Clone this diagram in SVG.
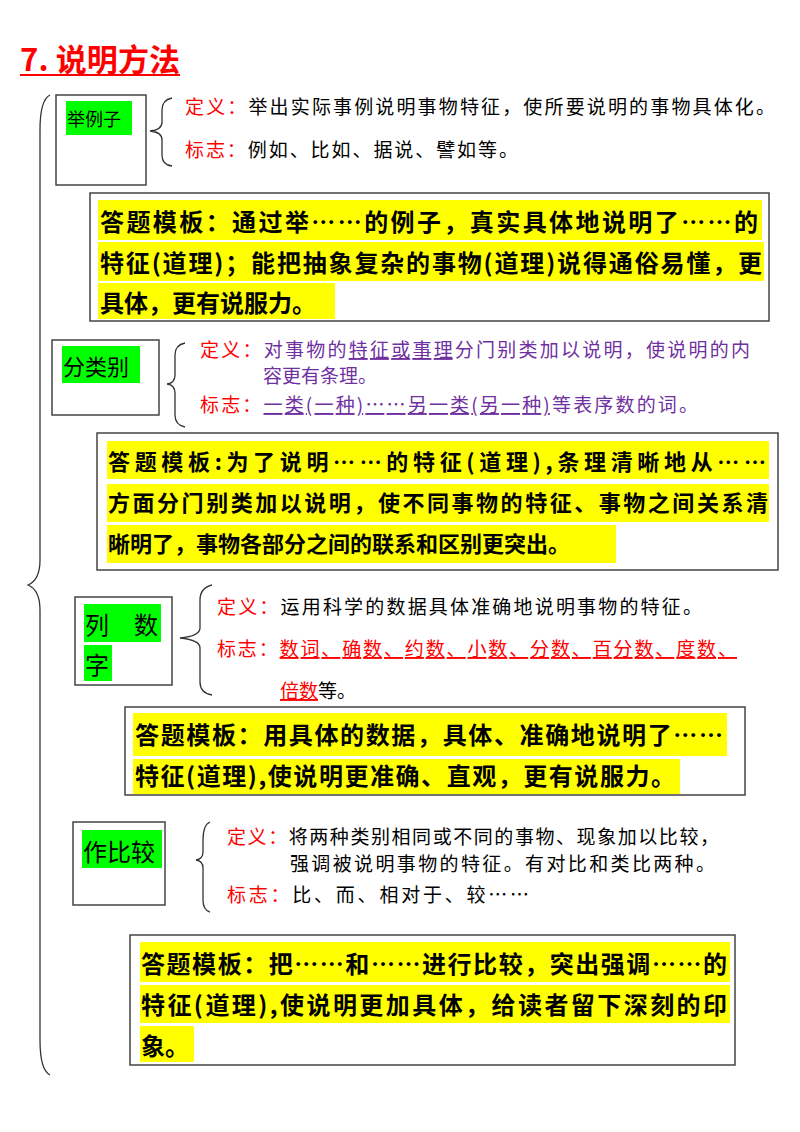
<svg xmlns="http://www.w3.org/2000/svg" width="800" height="1132" viewBox="0 0 800 1132">
<style>
text{font-family:"Noto Sans CJK SC","Noto Sans",sans-serif}
.box{fill:#fff;stroke:#444;stroke-width:1.5}
.hl{fill:#00ff00}
.yl{fill:#ffff00}
.br{fill:none;stroke:#333;stroke-width:1.3}
.lab{fill:#000}
.red{fill:#ff0000}
.def{font-size:19px}
.tpl{font-size:24px;font-weight:bold;fill:#000}
.pur{fill:#7030a0}
</style>
<rect width="800" height="1132" fill="#fff"/>
<text x="20" y="71" font-size="31" font-weight="bold" class="red" textLength="160">7. 说明方法</text>
<line x1="20" y1="75" x2="180" y2="75" stroke="#ff0000" stroke-width="2"/>
<g id="connectors">
<path class="br" d="M50 95 Q40 100 40 130 L40 560 Q40 580 28 585 Q40 590 40 610 L40 1040 Q40 1070 50 1075"/>
<path class="br" d="M172 98 Q162 100 162 110 L162 122 Q162 130 150 131 Q162 132 162 140 L162 155 Q162 165 172 166"/>
<path class="br" d="M185 343 Q175 345 175 355 L175 375 Q175 383 167 384 Q175 385 175 393 L175 415 Q175 425 185 427"/>
<path class="br" d="M212 585 Q200 588 200 600 L200 628 Q200 636 180 638 Q200 640 200 648 L200 682 Q200 693 212 695"/>
<path class="br" d="M210 822 Q203 825 203 840 L203 852 Q203 859 196 860 Q203 861 203 868 L203 900 Q203 910 210 912"/>
</g>
<g id="n1">
<rect class="box" x="56" y="95" width="90" height="90"/>
<rect class="hl" x="66" y="101" width="66" height="34"/>
<text x="67" y="126" font-size="18" class="lab">举例子</text>
<text x="185" y="114" class="def" textLength="590"><tspan class="red">定义：</tspan>举出实际事例说明事物特征，使所要说明的事物具体化。</text>
<text x="185" y="157" class="def" textLength="333"><tspan class="red">标志：</tspan>例如、比如、据说、譬如等。</text>
</g>
<g id="t1">
<rect class="box" x="90" y="193" width="679" height="128"/>
<rect class="yl" x="98" y="200" width="664" height="40"/>
<rect class="yl" x="98" y="242" width="666" height="39"/>
<rect class="yl" x="98" y="283" width="237" height="36"/>
<text x="100" y="231" class="tpl" textLength="658">答题模板：通过举……的例子，真实具体地说明了……的</text>
<text x="100" y="272" class="tpl" textLength="662">特征(道理)；能把抽象复杂的事物(道理)说得通俗易懂，更</text>
<text x="100" y="312" class="tpl">具体，更有说服力。</text>
</g>
<g id="n2">
<rect class="box" x="52" y="340" width="107" height="75"/>
<rect class="hl" x="62" y="346" width="78" height="37"/>
<text x="63" y="375" font-size="22" class="lab">分类别</text>
<text x="200" y="357" class="def pur" textLength="550"><tspan class="red">定义：</tspan>对事物的<tspan text-decoration="underline">特征或事理</tspan>分门别类加以说明，使说明的内</text>
<text x="263" y="383" class="def pur">容更有条理。</text>
<text x="200" y="412" class="def pur" textLength="498"><tspan class="red">标志：</tspan><tspan text-decoration="underline">一类(一种)……另一类(另一种)</tspan>等表序数的词。</text>
</g>
<g id="t2">
<rect class="box" x="97" y="433" width="681" height="137"/>
<rect class="yl" x="107" y="441" width="662" height="38"/>
<rect class="yl" x="107" y="484" width="662" height="38"/>
<rect class="yl" x="107" y="525" width="509" height="38"/>
<text x="108" y="470" font-size="22" font-weight="bold" textLength="658">答题模板:为了说明……的特征(道理),条理清晰地从……</text>
<text x="108" y="511" font-size="22" font-weight="bold" textLength="660">方面分门别类加以说明，使不同事物的特征、事物之间关系清</text>
<text x="108" y="552" font-size="22" font-weight="bold">晰明了，事物各部分之间的联系和区别更突出。</text>
</g>
<g id="n3">
<rect class="box" x="75" y="597" width="97" height="88"/>
<rect class="hl" x="84" y="604" width="77" height="38"/>
<rect class="hl" x="84" y="645" width="28" height="36"/>
<text x="85" y="634" font-size="24" class="lab">列</text>
<text x="134" y="634" font-size="24" class="lab">数</text>
<text x="85" y="674" font-size="24" class="lab">字</text>
<text x="217" y="614" class="def" textLength="485"><tspan class="red">定义：</tspan>运用科学的数据具体准确地说明事物的特征。</text>
<text x="217" y="656" class="def red" textLength="520"><tspan>标志：</tspan><tspan text-decoration="underline">数词、确数、约数、小数、分数、百分数、度数、</tspan></text>
<text x="280" y="698" class="def"><tspan class="red" text-decoration="underline">倍数</tspan>等。</text>
</g>
<g id="t3">
<rect class="box" x="125" y="707" width="620" height="88"/>
<rect class="yl" x="133" y="713" width="594" height="43"/>
<rect class="yl" x="133" y="759" width="547" height="35"/>
<text x="135" y="744" class="tpl" textLength="588">答题模板：用具体的数据，具体、准确地说明了……</text>
<text x="135" y="785" class="tpl" textLength="540">特征(道理),使说明更准确、直观，更有说服力。</text>
</g>
<g id="n4">
<rect class="box" x="73" y="822" width="92" height="83"/>
<rect class="hl" x="82" y="830" width="80" height="38"/>
<text x="83" y="861" font-size="24" class="lab">作比较</text>
<text x="227" y="844" class="def" textLength="492"><tspan class="red">定义：</tspan>将两种类别相同或不同的事物、现象加以比较，</text>
<text x="290" y="871" class="def" textLength="425">强调被说明事物的特征。有对比和类比两种。</text>
<text x="227" y="902" class="def" textLength="302"><tspan class="red">标志：</tspan>比、而、相对于、较……</text>
</g>
<g id="t4">
<rect class="box" x="130" y="935" width="605" height="130"/>
<rect class="yl" x="140" y="942" width="590" height="40"/>
<rect class="yl" x="140" y="985" width="590" height="38"/>
<rect class="yl" x="140" y="1026" width="54" height="36"/>
<text x="141" y="973" class="tpl" textLength="586">答题模板：把……和……进行比较，突出强调……的</text>
<text x="141" y="1014" class="tpl" textLength="586">特征(道理),使说明更加具体，给读者留下深刻的印</text>
<text x="141" y="1055" class="tpl">象。</text>
</g>
</svg>
